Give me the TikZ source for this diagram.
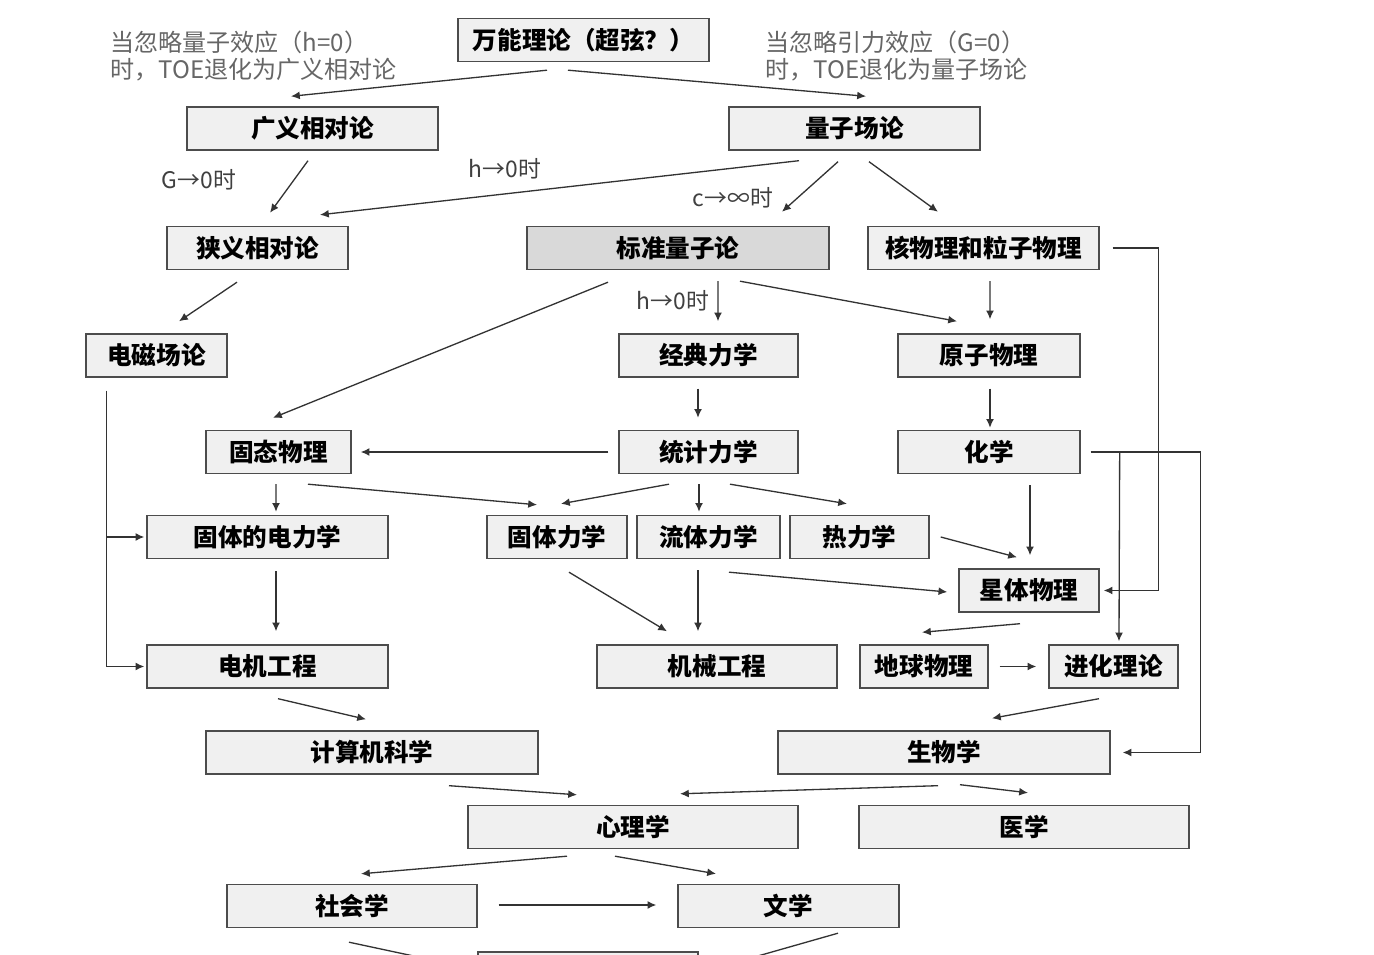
\documentclass[tikz,border=0pt]{standalone}
\usepackage{fontspec}
\setmainfont{Noto Sans CJK SC}
\usetikzlibrary{calc, arrows.meta}

\begin{document}
\begin{tikzpicture}[x=0.02cm, y=-0.02cm,
	box/.style={draw=black!70, fill=black!6, line width=0.8pt, minimum height=0.86cm, inner sep=0pt, font=\fontsize{14}{16}\selectfont\bfseries},
	flow/.style={draw=black!80, line width=0.75pt, -{Latex[length=5pt,width=4.5pt]}},
	note/.style={text=black!60, align=left, anchor=west, font=\fontsize{13.7}{15.5}\selectfont},
	cond/.style={text=black!75, font=\fontsize{13}{15}\selectfont}]
	\useasboundingbox (0,0) rectangle (1374,955);
	\clip (0,0) rectangle (1374,955);
	
	\node [box, minimum width=5.02cm] (toe) at (583.5,40) {万能理论（超弦？）};
	\node [box, minimum width=5.02cm] (gr) at (312.5,128.5) {广义相对论};
	\node [box, minimum width=5.02cm] (qft) at (854.5,128.5) {量子场论};
	\node [box, minimum width=3.62cm] (sr) at (257.5,248) {狭义相对论};
	\node [box, minimum width=6.04cm, fill=black!15] (sqm) at (678,248) {标准量子论};
	\node [box, minimum width=4.62cm] (nuc) at (983.5,248) {核物理和粒子物理};
	\node [box, minimum width=2.82cm] (em) at (156.5,355.5) {电磁场论};
	\node [box, minimum width=3.58cm] (cm) at (708.5,355.5) {经典力学};
	\node [box, minimum width=3.64cm] (atom) at (989,355.5) {原子物理};
	\node [box, minimum width=2.9cm] (ssp) at (278.5,452) {固态物理};
	\node [box, minimum width=3.58cm] (stat) at (708.5,452) {统计力学};
	\node [box, minimum width=3.64cm] (chem) at (989,452) {化学};
	\node [box, minimum width=4.82cm] (sed) at (267.5,537) {固体的电力学};
	\node [box, minimum width=2.8cm] (solid) at (557,537) {固体力学};
	\node [box, minimum width=2.86cm] (fluid) at (708.5,537) {流体力学};
	\node [box, minimum width=2.78cm] (thermo) at (859.5,537) {热力学};
	\node [box, minimum width=2.8cm] (astro) at (1029,590.5) {星体物理};
	\node [box, minimum width=4.82cm] (ee) at (267.5,666.5) {电机工程};
	\node [box, minimum width=4.8cm] (me) at (717,666.5) {机械工程};
	\node [box, minimum width=2.56cm] (geo) at (924,666.5) {地球物理};
	\node [box, minimum width=2.58cm] (evo) at (1113.5,666.5) {进化理论};
	\node [box, minimum width=6.64cm] (cs) at (372,752.5) {计算机科学};
	\node [box, minimum width=6.64cm] (bio) at (944,752.5) {生物学};
	\node [box, minimum width=6.6cm] (psy) at (633,827) {心理学};
	\node [box, minimum width=6.6cm] (med) at (1024,827) {医学};
	\node [box, minimum width=5cm] (soc) at (352,906) {社会学};
	\node [box, minimum width=4.42cm] (lit) at (788.5,906) {文学};
	\node [box, minimum width=4.4cm] (bot) at (588,973.5) {};
	
	\node [note] (qnote) at (104,56) {当忽略量子效应（h=0）\\时，TOE退化为广义相对论};
	\node [note] (gnote) at (759,56) {当忽略引力效应（G=0）\\时，TOE退化为量子场论};
	\node [cond] (gcond) at (199,180) {G→0时};
	\node [cond] (hcond) at (505,169) {h→0时};
	\node [cond] (ccond) at (733,198) {c→∞时};
	\node [cond] (hcl) at (673,301) {h→0时};
	
	\draw [flow] ($(toe.south)+(-36.5,8)$) -- ($(gr.north)+(-21.5,-10)$);
	\draw [flow] ($(toe.south)+(-15.5,8)$) -- ($(qft.north)+(11.5,-10)$);
	\draw [flow] ($(gr.south)+(-4.5,10)$) -- ($(sr.north)+(12.5,-13)$);
	\draw [flow] ($(qft.south)+(-55.5,10)$) -- ($(sr.north)+(62.5,-11)$);
	\draw [flow] ($(qft.south)+(-16.5,11)$) -- ($(sqm.north)+(104,-14)$);
	\draw [flow] ($(qft.south)+(14.5,11)$) -- ($(nuc.north)+(-45.5,-14)$);
	\draw [flow] ($(sr.south)+(-20.5,12)$) -- ($(em.north)+(22.5,-12)$);
	\draw [flow] ($(sqm.south)+(-70,12)$) -- ($(ssp.north)+(-5.5,-12)$);
	\draw [flow] ($(sqm.south)+(40,11)$) -- ($(cm.north)+(9.5,-12)$);
	\draw [flow] ($(sqm.south)+(62,11)$) -- ($(atom.north)+(-32,-12)$);
	\draw [flow] ($(nuc.south)+(6.5,11)$) -- ($(atom.north)+(1,-14)$);
	\draw [flow] ($(nuc.east)+(13,0)$) -- ++(46,0) |- ($(astro.east)+(4,0)$);
	\draw [flow] ($(cm.south)+(-10.5,11)$) -- ($(stat.north)+(-10.5,-12)$);
	\draw [flow] ($(atom.south)+(1,11)$) -- ($(chem.north)+(1,-2)$);
	\draw [flow] ($(stat.west)+(-10,0)$) -- ($(ssp.east)+(9,0)$);
	
	\coordinate (emdrop) at ($(em.south)+(-50,13)$);
	\draw [flow] (emdrop) |- ($(ee.west)+(-2,0)$);
	\draw [flow] (emdrop |- sed.west) -- ($(sed.west)+(-2,0)$);
	
	\draw [flow] ($(ssp.south)+(-2.5,10)$) -- ($(sed.north)+(8.5,-3)$);
	\draw [flow] ($(ssp.south)+(29.5,10)$) -- ($(solid.north)+(-20,-10)$);
	\draw [flow] ($(stat.south)+(-39.5,10)$) -- ($(solid.north)+(4,-11)$);
	\draw [flow] ($(stat.south)+(-9.5,10)$) -- ($(fluid.north)+(-9.5,-3)$);
	\draw [flow] ($(stat.south)+(21.5,10)$) -- ($(thermo.north)+(-12.5,-11)$);
	\draw [flow] ($(chem.south)+(41,11)$) -- ($(astro.north)+(1,-13)$);
	
	\coordinate (chemout) at ($(chem.east)+(10,0)$);
	\draw [flow] (chemout) -- ++(110,0) |- ($(bio.east)+(12,0)$);
	\draw [flow] ($(chemout)+(29,0)$) -- ($(evo.north)+(5.5,-3)$);
	
	\draw [flow] ($(thermo.east)+(11,0)$) -- ($(astro.north)+(-12,-11)$);
	\draw [flow] ($(fluid.south)+(20.5,13)$) -- ($(astro.west)+(-11,1.5)$);
	\draw [flow] ($(sed.south)+(8.5,12)$) -- ($(ee.north)+(8.5,-13)$);
	\draw [flow] ($(solid.south)+(12,13)$) -- ($(me.north)+(-50,-13)$);
	\draw [flow] ($(fluid.south)+(-10.5,11)$) -- ($(me.north)+(-19,-13)$);
	\draw [flow] ($(astro.south)+(-9,11)$) -- ($(geo.north)+(-2,-12)$);
	\draw [flow] ($(geo.east)+(11,0)$) -- ($(evo.west)+(-12,0)$);
	\draw [flow] ($(evo.south)+(-14.5,10)$) -- ($(bio.north)+(48,-12)$);
	\draw [flow] ($(ee.south)+(10.5,10)$) -- ($(cs.north)+(-6,-11)$);
	\draw [flow] ($(cs.south)+(77,11)$) -- ($(psy.north)+(-56,-10)$);
	\draw [flow] ($(bio.south)+(-6,11)$) -- ($(psy.north)+(47,-11)$);
	\draw [flow] ($(bio.south)+(16,10)$) -- ($(med.north)+(4,-12)$);
	\draw [flow] ($(psy.south)+(-66,7)$) -- ($(soc.north)+(9,-10)$);
	\draw [flow] ($(psy.south)+(-18,7)$) -- ($(lit.north)+(-72.5,-10)$);
	\draw [flow] ($(soc.east)+(21,-1)$) -- ($(lit.west)+(-21,-1)$);
	\draw [flow] ($(soc.south)+(-3,14)$) -- ($(bot.west)+(-10,-6)$);
	\draw [flow] ($(lit.south)+(49.5,5)$) -- ($(bot.east)+(10,-3.5)$);
\end{tikzpicture}
\end{document}
